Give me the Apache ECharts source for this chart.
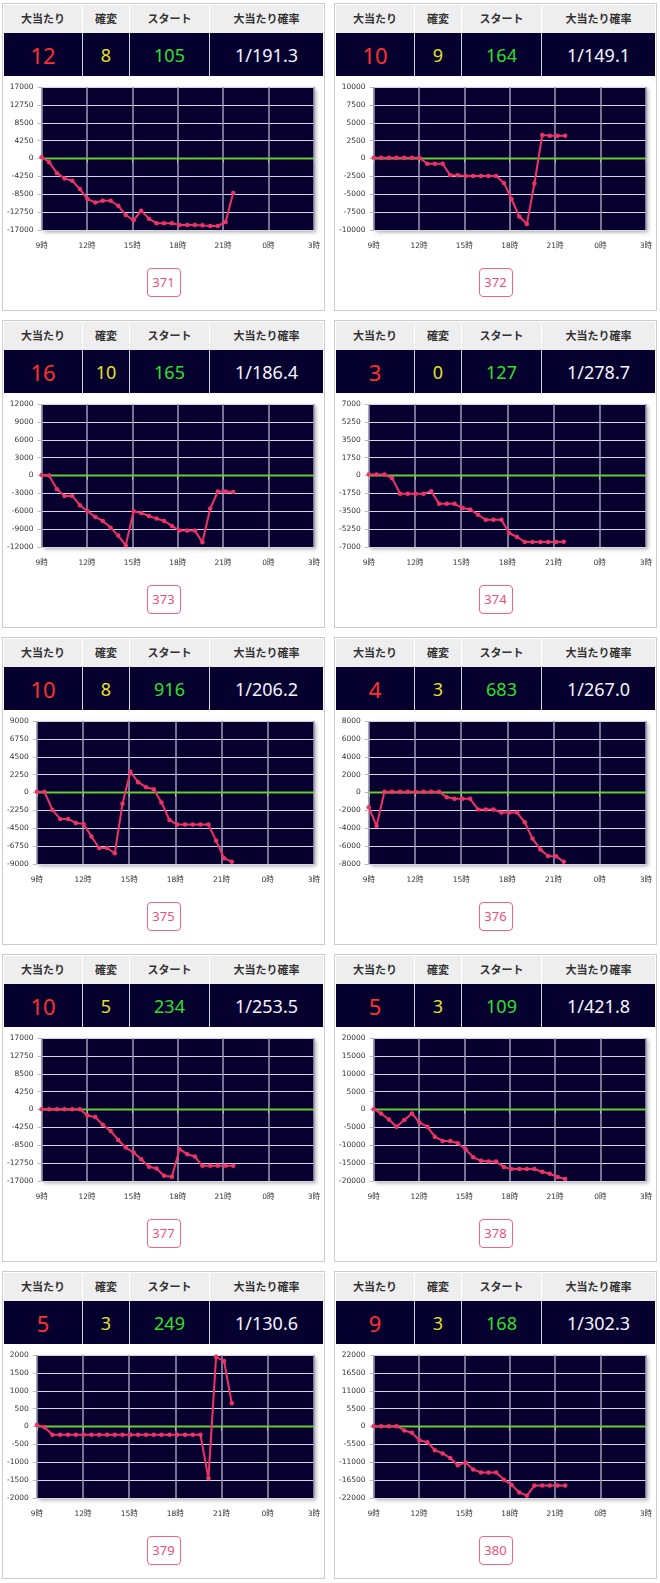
<!DOCTYPE html>
<html>
<head>
<meta charset="utf-8">
<script src="https://cdn.jsdelivr.net/npm/echarts@6/dist/echarts.min.js"></script>
<style>
  html, body { margin:0; padding:0; background:#fff; }
  body { width:660px; height:1583px; position:relative; overflow:hidden; }
  .panel { position:absolute; width:323px; height:308px; box-sizing:border-box; border:1px solid #ccc; padding:1px; background:#fff; }
  .row { display:flex; width:319px; }
  .head { height:28px; background:#eeeeee; }
  .vals { height:43px; background:#06002e; }
  .cell { box-sizing:border-box; display:flex; align-items:center; justify-content:center; }
  .head .cell { font-family:"Noto Sans CJK JP", sans-serif; font-weight:bold; font-size:11px; color:#333; padding-bottom:3px; }
  .head .cell + .cell { border-left:1px solid #fff; }
  .vals .cell + .cell { border-left:1px solid #d0d0d8; }
  .vals .cell { font-family:"Noto Sans", sans-serif; font-size:18px; }
  .c1 { width:78px; } .c2 { width:47px; } .c3 { width:80px; } .c4 { width:114px; }
  .chart { width:319px; height:185px; }
  .btn { width:34px; height:29px; box-sizing:border-box; border:1px solid #f2638c; border-radius:4px; margin:7px auto 0; text-align:center; line-height:27px; font-family:"Noto Sans", sans-serif; font-size:13px; color:#f0507a; }
</style>
</head>
<body>
<script>
// ---- data ----
const panelIds = ['371','372','373','374','375','376','377','378','379','380'];
const headerLabels = ['大当たり','確変','スタート','大当たり確率'];
const bigHits = [12, 10, 16, 3, 10, 4, 10, 5, 5, 9];
const kakuhen = [8, 9, 10, 0, 8, 3, 5, 3, 3, 3];
const starts = [105, 164, 165, 127, 916, 683, 234, 109, 249, 168];
const hitRates = ['1/191.3','1/149.1','1/186.4','1/278.7','1/206.2','1/267.0','1/253.5','1/421.8','1/130.6','1/302.3'];
const yMaxes = [17000, 10000, 12000, 7000, 9000, 8000, 17000, 20000, 2000, 22000];
const yIntervals = [4250, 2500, 3000, 1750, 2250, 2000, 4250, 5000, 500, 5500];
const xTickHours = [9, 12, 15, 18, 21, 24, 27];
const sampleTimes = ['9:00','9:30','10:01','10:31','11:02','11:32','12:02','12:33','13:03','13:34','14:04','14:34','15:05','15:35','16:06','16:36','17:06','17:37','18:07','18:38','19:08','19:38','20:09','20:39','21:10','21:40'];

const diff371 = [300,-870,-3480,-4740,-5300,-7270,-9650,-10440,-10040,-10040,-11230,-13440,-14700,-12400,-14300,-15400,-15400,-15400,-15800,-15800,-15800,-15900,-16050,-16050,-15100,-8220];
const diff372 = [100,100,100,100,100,100,100,-740,-740,-740,-2350,-2350,-2440,-2440,-2440,-2440,-2440,-3410,-5670,-8110,-9170,-3500,3270,3180,3180,3180];
const diff373 = [100,0,-2300,-3420,-3420,-4990,-6000,-6950,-7630,-8750,-10090,-11720,-6000,-6280,-6790,-7230,-7630,-8470,-9250,-9250,-9250,-11210,-5550,-2690,-2690,-2750];
const diff374 = [100,100,100,-260,-1790,-1790,-1790,-1790,-1530,-2770,-2770,-2770,-3190,-3320,-3840,-4330,-4330,-4330,-5630,-6020,-6510,-6510,-6510,-6510,-6510,-6480];
const diff375 = [80,80,-2190,-3320,-3320,-3830,-3950,-5550,-6980,-6980,-7650,-1430,2610,1300,670,420,-1260,-3450,-4040,-4040,-4040,-4040,-4040,-6060,-8290,-8710];
const diff376 = [-1640,-3740,75,75,75,75,75,75,75,75,-520,-710,-710,-710,-1900,-1900,-1900,-2240,-2240,-2240,-3330,-5160,-6390,-7100,-7140,-7740];
const diff377 = [80,80,80,80,80,80,-1420,-1810,-3620,-5120,-7240,-9050,-10230,-11810,-13620,-14010,-15740,-15980,-9440,-10630,-11180,-13380,-13380,-13380,-13380,-13380];
const diff378 = [90,-1110,-2780,-4810,-2960,-1110,-3700,-4810,-7590,-8800,-8800,-9440,-11110,-13330,-14350,-14540,-14540,-16110,-16670,-16670,-16670,-16670,-17410,-17960,-18890,-19440];
const diff379 = [40,-20,-230,-230,-230,-230,-230,-230,-230,-230,-230,-230,-230,-230,-230,-230,-230,-230,-230,-230,-230,-230,-1450,1950,1830,650];
const diff380 = [100,100,100,100,-1210,-1920,-4240,-4840,-7270,-8280,-9690,-11910,-11100,-13220,-14130,-14130,-14130,-16350,-17960,-20280,-21290,-18170,-18170,-18170,-18170,-18170];
const diffSeries = [diff371, diff372, diff373, diff374, diff375, diff376, diff377, diff378, diff379, diff380];

// ---- build ----
function toHour(s) { const p = s.split(':'); return +p[0] + (+p[1]) / 60; }
const sampleHours = sampleTimes.map(toHour);
const labelFont = 'DejaVu Sans, Noto Sans CJK JP, sans-serif';

panelIds.forEach((id, i) => {
  const col = i % 2, row = Math.floor(i / 2);
  const panel = document.createElement('div');
  panel.className = 'panel';
  panel.style.left = (col === 0 ? 2 : 334) + 'px';
  panel.style.top = (3 + row * 317) + 'px';

  const head = document.createElement('div');
  head.className = 'row head';
  headerLabels.forEach((h, k) => {
    const c = document.createElement('div');
    c.className = 'cell c' + (k + 1);
    c.textContent = h;
    head.appendChild(c);
  });
  panel.appendChild(head);

  const vals = document.createElement('div');
  vals.className = 'row vals';
  const vData = [
    [String(bigHits[i]), '#ff3030', '22px'],
    [String(kakuhen[i]), '#e2e02a', '18px'],
    [String(starts[i]), '#2ee02a', '18px'],
    [hitRates[i], '#f4f4ff', '18px']
  ];
  vData.forEach((v, k) => {
    const c = document.createElement('div');
    c.className = 'cell c' + (k + 1);
    c.textContent = v[0];
    c.style.color = v[1];
    c.style.fontSize = v[2];
    vals.appendChild(c);
  });
  panel.appendChild(vals);

  const chartDiv = document.createElement('div');
  chartDiv.className = 'chart';
  panel.appendChild(chartDiv);

  const btn = document.createElement('div');
  btn.className = 'btn';
  btn.textContent = id;
  panel.appendChild(btn);

  document.body.appendChild(panel);

  const M = yMaxes[i];
  const xMin = xTickHours[0], xMax = xTickHours[xTickHours.length - 1];
  const leftPad = String(-M).length >= 6 ? 36 : 32;
  const chart = echarts.init(chartDiv, null, { renderer: 'canvas' });
  chart.setOption({
    animation: false,
    grid: {
      left: leftPad, right: 8, top: 11, bottom: 31,
      show: true, backgroundColor: '#07002f', borderWidth: 0,
      shadowColor: 'rgba(0,0,0,0.35)', shadowBlur: 4, shadowOffsetX: 2, shadowOffsetY: 2
    },
    xAxis: {
      type: 'value', min: xMin, max: xMax, interval: 3,
      axisLine: { show: true, lineStyle: { color: '#cccccc' } },
      axisTick: { show: true, length: 4, lineStyle: { color: '#bbbbbb' } },
      axisLabel: { margin: 12, fontSize: 7.5, color: '#333', fontFamily: labelFont,
        formatter: v => (v % 24) + '時' },
      splitLine: { show: true, lineStyle: { color: '#9c9ab8', width: 1.5 } }
    },
    yAxis: {
      type: 'value', min: -M, max: M, interval: yIntervals[i],
      axisLine: { show: false },
      axisTick: { show: true, length: 4, lineStyle: { color: '#bbbbbb' } },
      axisLabel: { margin: 8, fontSize: 7.5, color: '#333', fontFamily: labelFont,
        formatter: v => String(v) },
      splitLine: { show: true, lineStyle: { color: '#d6d6e4', width: 1 } }
    },
    series: [{
      type: 'line',
      data: [[xMin, 0], [xMax, 0]],
      symbol: 'none', silent: true, z: 2,
      lineStyle: { color: '#66cc33', width: 2 }
    }, {
      type: 'line',
      data: sampleHours.map((h, k) => [h, diffSeries[i][k]]),
      symbol: 'circle', symbolSize: 4.5,
      lineStyle: { color: '#ee3366', width: 2 },
      itemStyle: { color: '#ee3366' },
      z: 3
    }]
  });
});
</script>
</body>
</html>
